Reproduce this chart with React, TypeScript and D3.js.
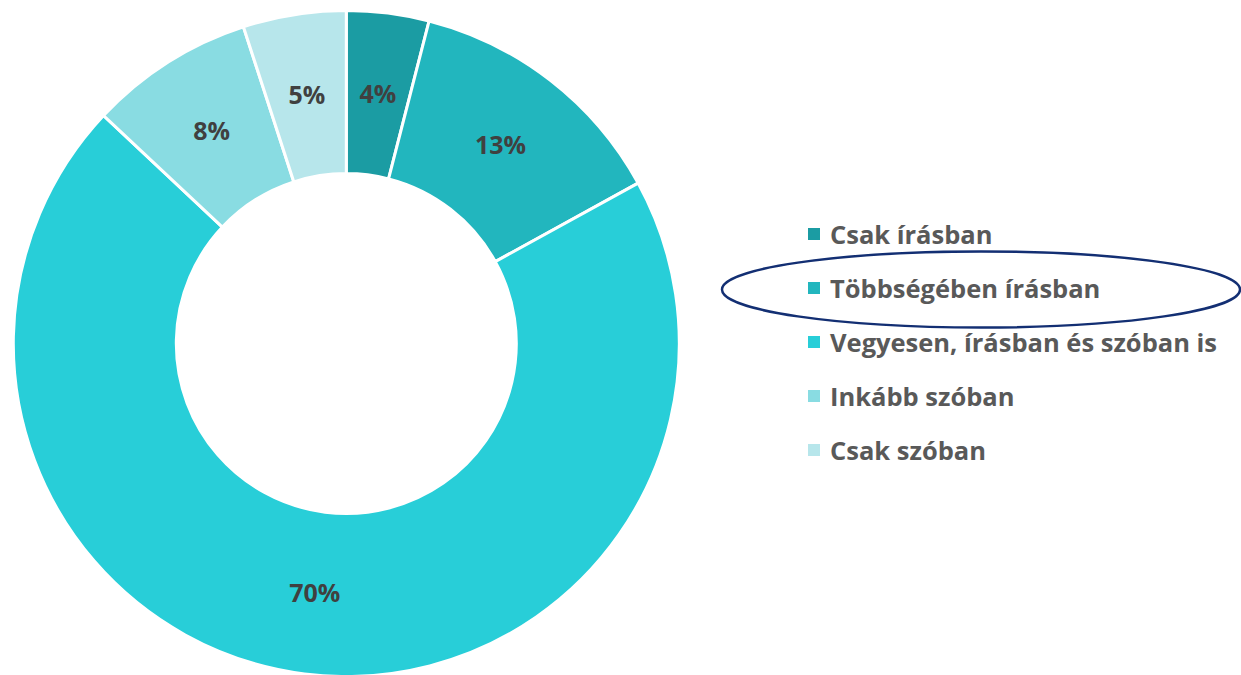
import React from "react";
import * as d3 from "d3";

const categories = [
  "Csak írásban",
  "Többségében írásban",
  "Vegyesen, írásban és szóban is",
  "Inkább szóban",
  "Csak szóban",
];
const values = [4, 13, 70, 8, 5];
const colors = ["#1B9CA3", "#22B6BE", "#28CED8", "#89DCE2", "#B7E6EB"];
const highlighted = "Többségében írásban";

const W = 1241;
const H = 675;
const cx = 346.3;
const cy = 343.5;
const outerR = 333;
const innerR = 170;

export default function App() {
  const data = categories.map((c, i) => ({ name: c, value: values[i], color: colors[i] }));
  const pie = d3.pie<any>().sort(null).value((d: any) => d.value);
  const arcs = pie(data);
  const arc = d3.arc<any>().innerRadius(innerR).outerRadius(outerR);

  const legendX = 808;
  const legendY0 = 244;
  const legendStep = 54;
  const hiIdx = categories.indexOf(highlighted);

  return (
    <svg
      width={W}
      height={H}
      style={{ position: "absolute", left: 0, top: 0, background: "#fff" }}
      fontFamily="'Open Sans', sans-serif"
    >
      <g transform={`translate(${cx},${cy})`}>
        {arcs.map((a, i) => (
          <path key={i} d={arc(a) as string} fill={a.data.color} stroke="#fff" strokeWidth={3} />
        ))}
        {arcs.map((a, i) => {
          const [x, y] = arc.centroid(a);
          return (
            <text
              key={"l" + i}
              x={x}
              y={y}
              dy="0.35em"
              textAnchor="middle"
              fontSize={25}
              fontWeight={700}
              fill="#404040"
            >
              {a.data.value + "%"}
            </text>
          );
        })}
      </g>
      <g>
        {data.map((d, i) => (
          <g key={"lg" + i}>
            <rect x={legendX} y={legendY0 + i * legendStep - 16} width={12} height={12} fill={d.color} />
            <text x={legendX + 22} y={legendY0 + i * legendStep} fontSize={25.5} fontWeight={700} fill="#595959">
              {d.name}
            </text>
          </g>
        ))}
      </g>
      <ellipse
        cx={981}
        cy={legendY0 + hiIdx * legendStep - 8.5}
        rx={259}
        ry={38}
        fill="none"
        stroke="#132F73"
        strokeWidth={2.5}
      />
    </svg>
  );
}
